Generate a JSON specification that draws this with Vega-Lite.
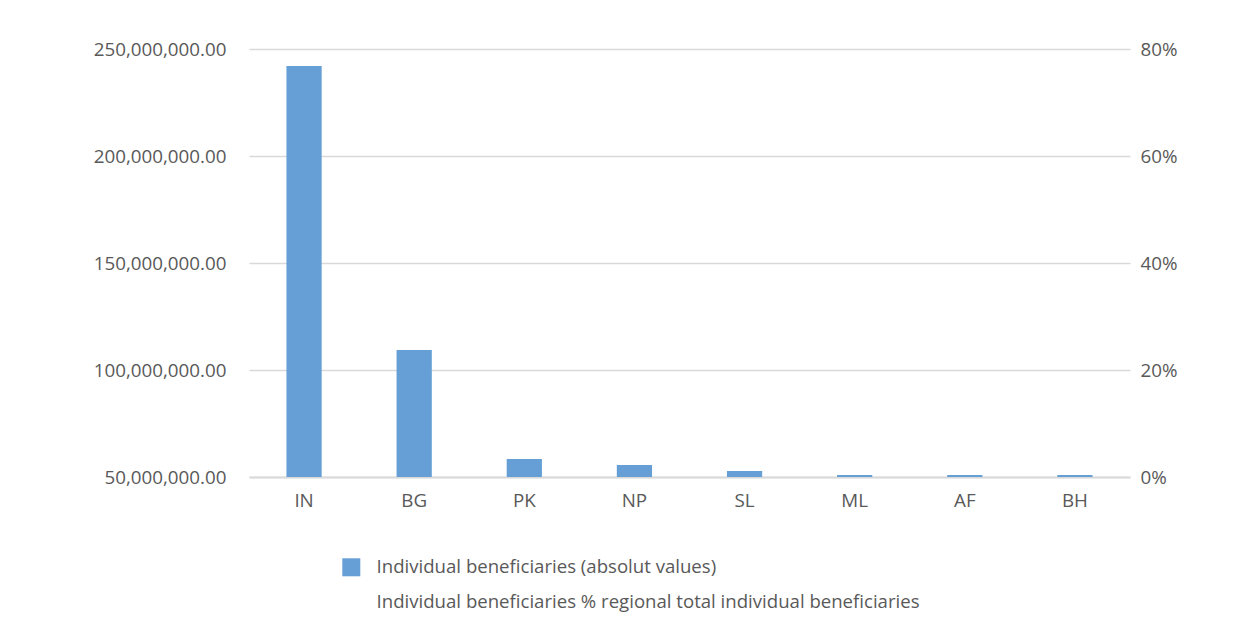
{
  "$schema": "https://vega.github.io/schema/vega-lite/v6.json",
  "autosize": {"type": "none"},
  "width": 881,
  "height": 428,
  "padding": {"left": 249, "top": 49, "right": 113, "bottom": 154},
  "background": "white",
  "config": {
    "view": {"stroke": null},
    "font": "Open Sans",
    "axis": {"labelFont": "Open Sans", "labelColor": "#595959", "labelFontSize": 18.8, "gridColor": "#d9d9d9", "gridWidth": 1.3, "domain": false, "ticks": false, "title": null},
    "legend": {"labelFont": "Open Sans", "labelColor": "#595959", "labelFontSize": 18.6, "labelLimit": 0}
  },
  "data": {"values": [
    {"country": "IN", "absolute": 242000000, "share": 0.361},
    {"country": "BG", "absolute": 109300000, "share": 0.163},
    {"country": "PK", "absolute": 58400000, "share": 0.087},
    {"country": "NP", "absolute": 55600000, "share": 0.083},
    {"country": "SL", "absolute": 52800000, "share": 0.079},
    {"country": "ML", "absolute": 50900000, "share": 0.076},
    {"country": "AF", "absolute": 50900000, "share": 0.076},
    {"country": "BH", "absolute": 50900000, "share": 0.076}
  ]},
  "encoding": {
    "x": {"field": "country", "type": "nominal", "sort": null,
      "scale": {"paddingInner": 0.68, "paddingOuter": 0.34},
      "axis": {"labelAngle": 0, "labelPadding": 14, "grid": false, "domain": true, "domainColor": "#d9d9d9", "domainWidth": 2}}
  },
  "layer": [
    {
      "mark": {"type": "bar", "color": "#659FD6", "clip": true},
      "encoding": {
        "y": {"field": "absolute", "type": "quantitative",
          "scale": {"domain": [50000000, 250000000], "zero": false, "nice": false},
          "axis": {"orient": "left", "values": [50000000, 100000000, 150000000, 200000000, 250000000], "format": ",.2f", "labelPadding": 23, "grid": true}},
        "color": {"datum": "Individual beneficiaries (absolut values)", "type": "nominal",
          "scale": {"domain": ["Individual beneficiaries (absolut values)", "Individual beneficiaries % regional total individual beneficiaries"], "range": ["#659FD6", "transparent"]},
          "legend": {"title": null, "orient": "none", "legendX": 93, "legendY": 509, "symbolType": "square", "symbolSize": 324, "rowPadding": 16, "labelOffset": 16, "symbolStrokeWidth": 0}}
      }
    },
    {
      "mark": {"type": "line", "strokeOpacity": 0},
      "encoding": {
        "y": {"field": "share", "type": "quantitative",
          "scale": {"domain": [0, 0.8], "nice": false},
          "axis": {"orient": "right", "values": [0, 0.2, 0.4, 0.6, 0.8], "format": ".0%", "labelPadding": 10, "grid": false}},
        "color": {"datum": "Individual beneficiaries % regional total individual beneficiaries", "type": "nominal"}
      }
    }
  ],
  "resolve": {"scale": {"y": "independent"}}
}
